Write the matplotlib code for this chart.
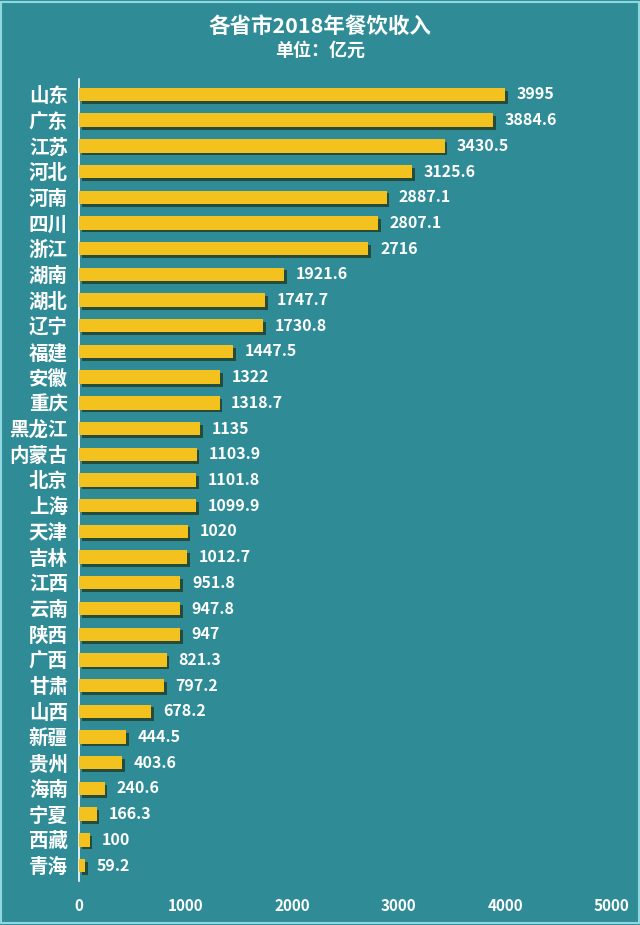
import matplotlib
matplotlib.use('Agg')
import matplotlib.pyplot as plt
import matplotlib.patheffects as pe

plt.rcParams['font.family'] = ['Noto Sans CJK SC', 'DejaVu Sans']

# 各省市2018年餐饮收入（亿元）
provinces = ['山东', '广东', '江苏', '河北', '河南', '四川', '浙江', '湖南', '湖北', '辽宁',
             '福建', '安徽', '重庆', '黑龙江', '内蒙古', '北京', '上海', '天津', '吉林', '江西',
             '云南', '陕西', '广西', '甘肃', '山西', '新疆', '贵州', '海南', '宁夏', '西藏', '青海']
values = [3995, 3884.6, 3430.5, 3125.6, 2887.1, 2807.1, 2716, 1921.6, 1747.7, 1730.8,
          1447.5, 1322, 1318.7, 1135, 1103.9, 1101.8, 1099.9, 1020, 1012.7, 951.8,
          947.8, 947, 821.3, 797.2, 678.2, 444.5, 403.6, 240.6, 166.3, 100, 59.2]
value_labels = ['3995', '3884.6', '3430.5', '3125.6', '2887.1', '2807.1', '2716', '1921.6',
                '1747.7', '1730.8', '1447.5', '1322', '1318.7', '1135', '1103.9', '1101.8',
                '1099.9', '1020', '1012.7', '951.8', '947.8', '947', '821.3', '797.2',
                '678.2', '444.5', '403.6', '240.6', '166.3', '100', '59.2']
xticks = [0, 1000, 2000, 3000, 4000, 5000]

bg = '#2f8c96'
bar_color = '#f4c21f'

fig = plt.figure(figsize=(6.4, 9.25), dpi=100, facecolor=bg)
ax = fig.add_axes([0.1234, 0.0476, 0.8326, 0.867])
ax.set_facecolor(bg)

ypos = list(range(len(provinces)))
bars = ax.barh(ypos, values, height=0.52, color=bar_color, zorder=3)
for b in bars:
    b.set_path_effects([pe.SimplePatchShadow(offset=(2, -2), shadow_rgbFace='#24402c', alpha=0.85),
                        pe.Normal()])

for y, v, lab in zip(ypos, values, value_labels):
    ax.text(v + 110, y, lab, va='center', ha='left', color='white',
            fontsize=11.5, fontweight='bold')

ax.set_ylim(len(provinces) - 0.4, -0.6)
ax.set_xlim(0, 5000)
ax.set_yticks(ypos)
ax.set_yticklabels(provinces, fontsize=14, fontweight='bold', color='white')
ax.set_xticks(xticks)
ax.set_xticklabels([str(t) for t in xticks], fontsize=11, fontweight='bold', color='white')
ax.tick_params(axis='both', length=0)
ax.tick_params(axis='x', pad=12)
ax.tick_params(axis='y', pad=8)

for s in ['top', 'right', 'bottom']:
    ax.spines[s].set_visible(False)
ax.spines['left'].set_color('white')
ax.spines['left'].set_linewidth(1.2)

fig.text(0.5, 0.971, '各省市2018年餐饮收入', ha='center', va='center',
         color='white', fontsize=15.5, fontweight='bold')
fig.text(0.5, 0.946, '单位：亿元', ha='center', va='center',
         color='white', fontsize=13, fontweight='bold')

# light frame around the picture
fig.patches.append(plt.Rectangle((0.002, 0.002), 0.996, 0.996, transform=fig.transFigure,
                                 fill=False, edgecolor='#8fd8e0', linewidth=1.5))

fig.savefig('out.png', dpi=100, facecolor=bg)
